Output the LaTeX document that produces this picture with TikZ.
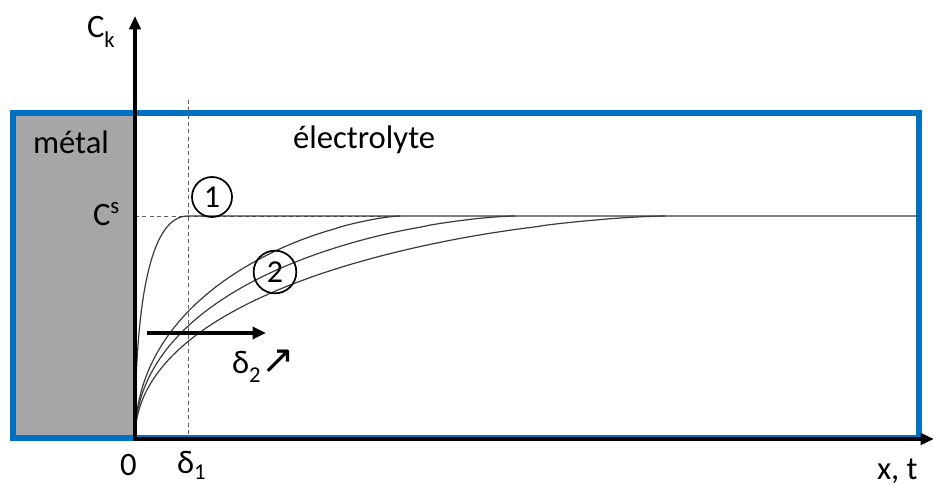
\documentclass[tikz,border=0pt]{standalone}
\usepackage{fontspec}
\setmainfont{Carlito}
\newfontfamily\symfnt{DejaVu Sans}
\usetikzlibrary{arrows.meta}
\definecolor{frameblue}{HTML}{0070C0}
\definecolor{metalgray}{HTML}{A6A6A6}
\definecolor{curvegray}{HTML}{3A3A3A}
\definecolor{dashgray}{HTML}{606060}
\begin{document}
\begin{tikzpicture}[x=0.75pt,y=-0.75pt,
  lbl/.style={inner sep=0pt, outer sep=0pt, anchor=base west, font=\fontsize{24.5}{29}\selectfont},
  numcircle/.style={circle, draw, line width=1.3pt, inner sep=0pt, font=\fontsize{24}{24}\selectfont},
  curve/.style={draw=curvegray, line width=0.9pt},
  guide/.style={draw=dashgray, line width=0.75pt, dash pattern=on 3pt off 2.5pt},
  axis/.style={line width=3.2pt, {Triangle[width=8.5pt,length=10pt]}-{Triangle[width=8.5pt,length=10pt]}},
  bigarrow/.style={line width=3.4pt, -{Triangle[width=9pt,length=10pt]}}]
\useasboundingbox (0,0) rectangle (933,486);
% metal and frame
\fill[metalgray] (13,113) rectangle (135,438);
\draw[frameblue, line width=4.5pt] (13,113) rectangle (919,438);
% named points
\coordinate (O) at (135,439);
\coordinate (ytip) at (135,16);
\coordinate (xtip) at (934,439);
\coordinate (d1top) at (188,100);
\coordinate (d1bot) at (188,438);
\coordinate (csl) at (135,216);
\coordinate (csr) at (400,216);
\coordinate (fend) at (919,216);
\coordinate (astart) at (147,333);
\coordinate (aend) at (266,333);
% guides
\draw[guide] (d1top) -- (d1bot);
\draw[guide] (csl) -- (csr);
% curve 1 : saturates at x = 188
\draw[curve] plot[domain=0:0.995, samples=60, variable=\u] ({135+53*\u*\u},{438-222*(1-(1-\u)^2)}) -- (188,216) -- (fend);
% curves 2
\draw[curve] plot[domain=0:0.995, samples=80, variable=\u] ({135+265*\u*\u},{438-222*(1-(1-\u)^1.42)}) -- (400,216);
\draw[curve] plot[domain=0:0.995, samples=80, variable=\u] ({135+380*\u*\u},{438-222*(1-(1-\u)^1.5)}) -- (515,216);
\draw[curve] plot[domain=0:0.995, samples=80, variable=\u] ({135+530*\u*\u},{438-222*(1-(1-\u)^1.5)}) -- (665,216);
% axes
\draw[axis] (ytip) -- (O) -- (xtip);
% delta arrow
\draw[bigarrow] (astart) -- (aend);
% labels
\node[lbl] (ck) at (87,37) {C\raisebox{-7.5pt}{\fontsize{17}{17}\selectfont k}};
\node[lbl] (cs) at (93,225) {C\raisebox{9pt}{\fontsize{17}{17}\selectfont s}};
\node[lbl] (metal) at (33,153) {métal};
\node[lbl] (electrolyte) at (293,148) {électrolyte};
\node[lbl] (zero) at (120,475) {0};
\node[lbl] (delta1) at (177,473) {δ\raisebox{-4.5pt}{\fontsize{17}{17}\selectfont 1}};
\node[lbl] (xt) at (877,479) {x, t};
\node[lbl] (delta2) at (232,373) {δ\raisebox{-6.75pt}{\fontsize{17}{17}\selectfont 2}\hspace{1pt}{\symfnt\fontsize{30}{30}\selectfont ↗}};
\node[numcircle, minimum size=30pt] (c1) at (212,197) {1};
\node[numcircle, minimum size=32pt] (c2) at (275,272) {2};
\end{tikzpicture}
\end{document}
